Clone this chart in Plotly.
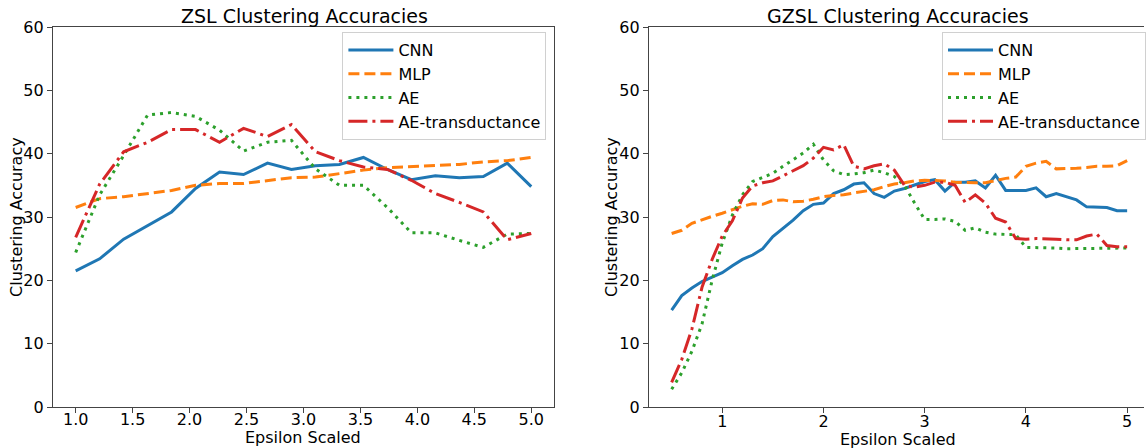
import numpy as np
import plotly.graph_objects as go

# ---------------- data ----------------
series_names = ["CNN", "MLP", "AE", "AE-transductance"]

zsl_eps = np.linspace(1.0, 5.0, 20)
zsl_cnn = [21.5, 23.4, 26.5, 28.7, 30.8, 34.5, 37.1, 36.7, 38.5, 37.5,
           38.1, 38.3, 39.4, 37.5, 35.9, 36.5, 36.2, 36.4, 38.5, 34.8]
zsl_mlp = [31.5, 32.9, 33.2, 33.7, 34.2, 35.0, 35.3, 35.3, 35.8, 36.2,
           36.3, 36.9, 37.4, 37.8, 38.0, 38.1, 38.3, 38.7, 38.9, 39.4]
zsl_ae = [24.4, 33.5, 39.7, 46.1, 46.5, 45.9, 43.7, 40.4, 41.8, 42.1,
          37.6, 35.0, 35.0, 31.5, 27.5, 27.5, 26.3, 25.2, 27.3, 27.4]
zsl_aet = [26.8, 35.2, 40.3, 41.8, 43.8, 43.8, 41.8, 44.0, 42.7, 44.6,
           40.3, 38.9, 37.9, 37.5, 35.8, 33.7, 32.3, 30.8, 26.4, 27.4]

gzsl_eps = np.round(np.arange(0.5, 5.0001, 0.1), 2)
gzsl_cnn = [15.3, 17.6, 18.8, 19.8, 20.5, 21.2, 22.3, 23.3, 24.0, 25.0,
            26.9, 28.2, 29.5, 31.0, 32.0, 32.2, 33.7, 34.3, 35.2, 35.4,
            33.7, 33.1, 34.1, 34.5, 35.0, 35.6, 35.9, 34.1, 35.5, 35.5,
            35.7, 34.6, 36.6, 34.2, 34.2, 34.2, 34.6, 33.2, 33.7, 33.2,
            32.7, 31.6, 31.5, 31.5, 31.0, 31.0]
gzsl_mlp = [27.4, 27.9, 29.0, 29.6, 30.1, 30.6, 31.2, 31.7, 32.1, 32.0,
            32.6, 32.7, 32.4, 32.5, 32.8, 33.2, 33.4, 33.5, 33.8, 34.1,
            34.3, 34.8, 35.2, 35.4, 35.7, 35.8, 35.8, 35.7, 35.5, 35.4,
            35.4, 35.4, 35.8, 36.1, 36.3, 38.0, 38.5, 38.8, 37.6, 37.6,
            37.7, 37.8, 38.0, 38.0, 38.1, 38.9]
gzsl_ae = [2.8, 5.4, 8.8, 13.1, 20.0, 25.9, 30.3, 33.5, 35.6, 36.3,
           36.9, 38.0, 39.0, 40.1, 41.5, 39.0, 37.3, 36.7, 36.8, 37.0,
           37.4, 37.0, 36.4, 35.0, 32.2, 29.6, 29.6, 29.7, 29.3, 27.9,
           28.3, 27.6, 27.3, 27.3, 27.2, 25.2, 25.2, 25.1, 25.1, 25.0,
           25.0, 25.0, 25.0, 25.0, 25.0, 25.1]
gzsl_aet = [3.9, 7.5, 12.3, 18.9, 23.3, 27.0, 29.4, 33.0, 34.9, 35.4,
            35.7, 36.5, 37.2, 38.1, 39.3, 41.0, 40.6, 41.4, 38.0, 37.6,
            38.1, 38.4, 37.4, 35.0, 34.7, 35.0, 35.5, 35.5, 35.0, 32.3,
            33.5, 32.2, 29.8, 29.2, 26.6, 26.5, 26.6, 26.6, 26.5, 26.4,
            26.4, 27.0, 27.3, 25.5, 25.3, 25.3]

y_ticks = [0, 10, 20, 30, 40, 50, 60]
zsl_xticks = [1.0, 1.5, 2.0, 2.5, 3.0, 3.5, 4.0, 4.5, 5.0]
gzsl_xticks = [1, 2, 3, 4, 5]

# ---------------- styles ----------------
colors = ["#1f77b4", "#ff7f0e", "#2ca02c", "#d62728"]
dashes = ["solid", "11px,5px", "3px,5px", "19px,5px,3px,5px"]
LW = 3
FONT = "DejaVu Sans"
W, H = 1146, 448

fig = go.Figure()

zsl_sets = [zsl_cnn, zsl_mlp, zsl_ae, zsl_aet]
gzsl_sets = [gzsl_cnn, gzsl_mlp, gzsl_ae, gzsl_aet]
for i, name in enumerate(series_names):
    fig.add_trace(go.Scatter(x=zsl_eps, y=zsl_sets[i], mode="lines", name=name,
                             line=dict(color=colors[i], width=LW, dash=dashes[i]),
                             xaxis="x", yaxis="y", legend="legend"))
for i, name in enumerate(series_names):
    fig.add_trace(go.Scatter(x=gzsl_eps, y=gzsl_sets[i], mode="lines", name=name,
                             line=dict(color=colors[i], width=LW, dash=dashes[i]),
                             xaxis="x2", yaxis="y2", legend="legend2"))

def px_x(p):
    return p / W

def px_y(p):
    return 1 - p / H

ytop, ybot = 27, 407
axis_common = dict(showgrid=False, zeroline=False, showline=True, linecolor="#444",
                   linewidth=1, ticks="outside", ticklen=5, tickcolor="#444",
                   automargin=False,
                   tickfont=dict(family=FONT, size=16, color="black"))

legend_common = dict(xanchor="left", yanchor="top", itemwidth=45,
                     bgcolor="rgba(255,255,255,0.8)", bordercolor="#d0d0d0", borderwidth=1,
                     font=dict(family=FONT, size=16, color="black"))

fig.update_layout(
    width=W, height=H,
    margin=dict(l=0, r=0, t=0, b=0, pad=0),
    paper_bgcolor="white", plot_bgcolor="white",
    font=dict(family=FONT, color="black"),
    xaxis=dict(domain=[px_x(53), px_x(555)], range=[0.8, 5.2], tickvals=zsl_xticks,
               ticktext=[f"{v:.1f}" for v in zsl_xticks], mirror=True, anchor="y",
               ticklabelstandoff=-7, **axis_common),
    yaxis=dict(domain=[px_y(ybot), px_y(ytop)], range=[0, 60], tickvals=y_ticks,
               mirror=True, anchor="x", **axis_common),
    xaxis2=dict(domain=[px_x(650), 1.0], range=[0.275, 0.275 + 496 / 101.4],
                tickvals=gzsl_xticks, mirror=True, anchor="y2",
                ticklabelstandoff=-5, **axis_common),
    yaxis2=dict(domain=[px_y(ybot), px_y(ytop)], range=[0, 60], tickvals=y_ticks,
                mirror=False, anchor="x2", **axis_common),
    legend=dict(x=px_x(343), y=px_y(32), **legend_common),
    legend2=dict(x=px_x(944), y=px_y(32), **legend_common),
    showlegend=True,
)

annos = [
    dict(text="ZSL Clustering Accuracies", x=px_x(305), y=px_y(16), size=19),
    dict(text="GZSL Clustering Accuracies", x=px_x(900), y=px_y(16), size=19),
    dict(text="Epsilon Scaled", x=px_x(304), y=px_y(437), size=16),
    dict(text="Epsilon Scaled", x=px_x(900), y=px_y(439), size=16),
]
for a in annos:
    fig.add_annotation(text=a["text"], x=a["x"], y=a["y"], xref="paper", yref="paper",
                       xanchor="center", yanchor="middle", showarrow=False,
                       font=dict(family=FONT, size=a["size"], color="black"))
for xp in [16, 612]:
    fig.add_annotation(text="Clustering Accuracy", x=px_x(xp), y=px_y(217), xref="paper",
                       yref="paper", xanchor="center", yanchor="middle", showarrow=False,
                       textangle=-90, font=dict(family=FONT, size=16, color="black"))

fig.write_html("out.html", config={"displayModeBar": False},
               post_script="document.body.style.margin='0';document.body.style.overflow='hidden';")
